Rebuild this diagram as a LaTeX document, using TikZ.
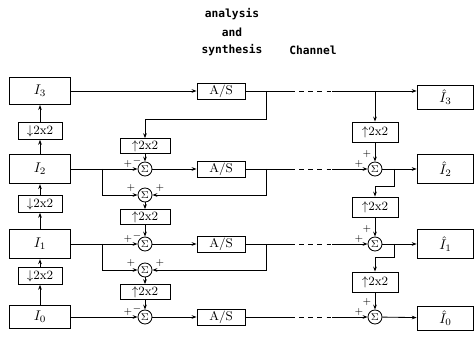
\documentclass[tikz,border=0pt]{standalone}
\usepackage{amsmath,amssymb}
\usepackage{fontspec}
\newfontfamily\titlefont{DejaVu Sans Mono}
\usetikzlibrary{arrows.meta, positioning, calc}

\begin{document}
\begin{tikzpicture}[x=0.025cm, y=-0.025cm, >={Stealth[length=3.5pt,width=2.6pt]}, line width=0.6pt,
		blk/.style={draw, inner sep=0pt},
		img/.style={blk, minimum width=1.52cm, minimum height=0.74cm},
		outimg/.style={blk, minimum width=1.42cm, minimum height=0.74cm},
		down/.style={blk, minimum width=1.1cm, minimum height=0.42cm, font=\small},
		pred/.style={blk, minimum width=1.25cm, minimum height=0.37cm, font=\small},
		rec/.style={blk, minimum width=1.15cm, minimum height=0.5cm, font=\small},
		codec/.style={blk, minimum width=1.2cm, minimum height=0.4cm, font=\small},
		sum/.style={draw, circle, inner sep=0pt, minimum size=0.35cm, font=\scriptsize},
		sgn/.style={font=\scriptsize, inner sep=0pt},
		ttl/.style={font=\titlefont\bfseries\footnotesize}]
			\useasboundingbox (0,0) rectangle (475,340);
			% titles
			\node[ttl] (tana) at (232,14) {analysis};
			\node[ttl] (tand) at (232,32) {and};
			\node[ttl] (tsyn) at (232,50) {synthesis};
			\node[ttl] (tch) at (313,50) {Channel};
			% pyramid on the left
			\node[img, minimum height=0.68cm] (I3) at (40,91) {$I_3$};
			\node[img] (I2) at (40,169) {$I_2$};
			\node[img] (I1) at (40,244) {$I_1$};
			\node[img, minimum height=0.58cm] (I0) at (40,317) {$I_0$};
			\node[down] (D3) at (40,131) {$\downarrow$2x2};
			\node[down] (D2) at (40,204) {$\downarrow$2x2};
			\node[down] (D1) at (40,276) {$\downarrow$2x2};
			\draw[->] (I0) -- (D1);
			\draw[->] (D1) -- (I1);
			\draw[->] (I1) -- (D2);
			\draw[->] (D2) -- (I2);
			\draw[->] (I2) -- (D3);
			\draw[->] (D3) -- (I3);
			% analysis / synthesis boxes
			\node[codec] (A3) at (221,91) {A/S};
			\node[codec] (A2) at (221,169) {A/S};
			\node[codec] (A1) at (221,244) {A/S};
			\node[codec] (A0) at (221,317) {A/S};
			% sums and interpolators, coder side
			\node[sum] (S2) at (145,169) {$\Sigma$};
			\node[sum] (B2) at (145,195) {$\Sigma$};
			\node[sum] (S1) at (145,244) {$\Sigma$};
			\node[sum] (B1) at (145,270) {$\Sigma$};
			\node[sum] (S0) at (145,317) {$\Sigma$};
			\node[pred] (P2) at (145,146) {$\uparrow$2x2};
			\node[pred] (P1) at (145,217) {$\uparrow$2x2};
			\node[pred] (P0) at (145,292) {$\uparrow$2x2};
			\draw[->] (I3) -- (A3);
			\draw[->] (I2) -- (S2);
			\draw[->] (I1) -- (S1);
			\draw[->] (I0) -- (S0);
			\draw[->] (S2) -- (A2);
			\draw[->] (S1) -- (A1);
			\draw[->] (S0) -- (A0);
			\draw[->] (P2) -- (S2);
			\draw[->] (P1) -- (S1);
			\draw[->] (P0) -- (S0);
			\draw[->] (B2) -- (P1);
			\draw[->] (B1) -- (P0);
			\coordinate (k2) at (102,169);
			\coordinate (k1) at (102,244);
			\draw[->] (k2) |- (B2);
			\draw[->] (k1) |- (B1);
			\coordinate (a3) at (266,91);
			\coordinate (a2) at (266,169);
			\coordinate (a1) at (266,244);
			\coordinate (c3) at (145,119);
			\draw[->] (a3) |- (c3) -- (P2);
			\draw[->] (a2) |- (B2);
			\draw[->] (a1) |- (B1);
			% signs
			\foreach \r/\n in {169/2, 244/1, 317/0} {
				\node[sgn] (sp\n) at (128,\r-5) {$+$};
				\node[sgn] (sm\n) at (137,\r-8) {$-$};
			}
			\foreach \r/\n in {195/2, 270/1} {
				\node[sgn] (bl\n) at (131,\r-7) {$+$};
				\node[sgn] (br\n) at (160,\r-7) {$+$};
			}
			% channel
			\foreach \r/\n in {91/3, 169/2, 244/1, 317/0} {
				\coordinate (ca\n) at (290,\r);
				\coordinate (cb\n) at (332,\r);
				\draw (A\n) -- (ca\n);
				\draw[dash pattern=on 3.5pt off 3pt] (ca\n) -- (cb\n);
			}
			% decoder side
			\node[outimg, minimum height=0.6cm] (H3) at (445.5,97) {$\hat{I}_3$};
			\node[outimg] (H2) at (445.5,169) {$\hat{I}_2$};
			\node[outimg] (H1) at (445.5,244) {$\hat{I}_1$};
			\node[outimg, minimum height=0.6cm] (H0) at (445.5,318) {$\hat{I}_0$};
			\node[sum] (R2) at (375,169) {$\Sigma$};
			\node[sum] (R1) at (375,244) {$\Sigma$};
			\node[sum] (R0) at (375,317) {$\Sigma$};
			\node[rec] (Q3) at (375,132) {$\uparrow$2x2};
			\node[rec] (Q2) at (375,207) {$\uparrow$2x2};
			\node[rec] (Q1) at (375,282) {$\uparrow$2x2};
			\draw[->] (cb3) -- (cb3 -| H3.west);
			\draw[->] (cb2) -- (R2);
			\draw[->] (cb1) -- (R1);
			\draw[->] (cb0) -- (R0);
			\draw[->] (R2) -- (H2);
			\draw[->] (R1) -- (H1);
			\draw[->] (R0) -- (H0);
			\coordinate (b3) at (375,91);
			\draw[->] (b3) -- (Q3);
			\draw[->] (Q3) -- (R2);
			\draw[->] (Q2) -- (R1);
			\draw[->] (Q1) -- (R0);
			\coordinate (e2) at (394,169);
			\coordinate (f2) at (394,186);
			\coordinate (e1) at (394,244);
			\coordinate (f1) at (394,257);
			\draw[->] (e2) -- (f2) -| (Q2);
			\draw[->] (e1) -- (f1) -| (Q1);
			\foreach \r/\n in {169/2, 244/1, 317/0} {
				\node[sgn] (rl\n) at (359,\r-5) {$+$};
				\node[sgn] (rt\n) at (367,\r-15) {$+$};
			}
		\end{tikzpicture}
\end{document}
